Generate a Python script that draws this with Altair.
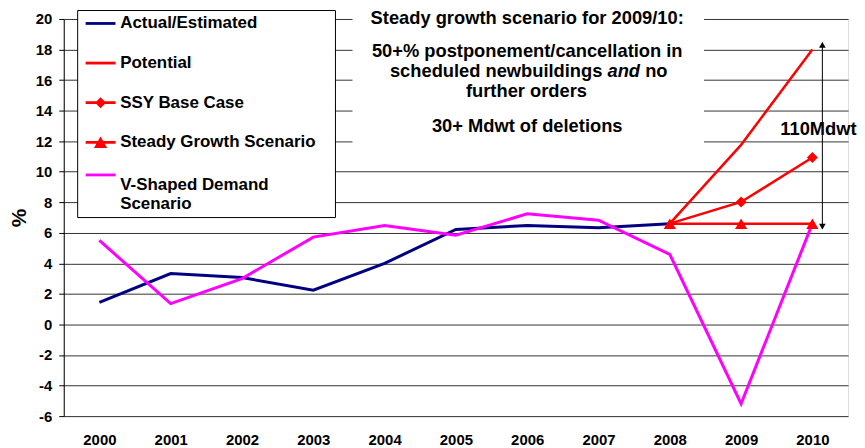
import altair as alt
import pandas as pd

# ---------------- data ----------------
years = list(range(2000, 2011))
actual = [1.44, 3.33, 3.07, 2.24, 4.00, 6.22, 6.48, 6.33, 6.60, None, None]
potential = [None] * 8 + [6.60, 11.76, 18.00]
base_case = [None] * 8 + [6.60, 8.02, 10.93]
steady = [None] * 8 + [6.60, 6.60, 6.60]
v_shaped = [5.50, 1.37, 3.00, 5.72, 6.48, 5.85, 7.24, 6.83, 4.59, -5.19, 6.60]

series_names = ["Actual/Estimated", "Potential", "SSY Base Case",
                "Steady Growth Scenario", "V-Shaped Demand Scenario"]
series_values = [actual, potential, base_case, steady, v_shaped]

y_ticks = list(range(-6, 21, 2))

note_lines = ["Steady growth scenario for 2009/10:",
              "50+% postponement/cancellation in",
              "further orders",
              "30+ Mdwt of deletions"]
line3_parts = ["scheduled newbuildings", "and", "no"]
arrow_label = "110Mdwt"

# ---------------- tables ----------------
rows = []
for name, vals in zip(series_names, series_values):
    for yr, v in zip(years, vals):
        if v is not None:
            rows.append({"year": yr, "value": v, "series": name})
df = pd.DataFrame(rows)

notes = pd.DataFrame({"text": note_lines,
                      "year": [2006.0, 2006.0, 2005.99, 2006.0],
                      "value": [20.05, 17.91, 15.28, 13.01]})
line3 = pd.DataFrame({"text": line3_parts,
                      "year": [2007.055, 2007.126, 2007.655],
                      "value": [16.61] * 3})
box = pd.DataFrame({"year": [2003.55], "year2": [2008.48],
                    "value": [11.0], "value2": [20.7]})
arrow = pd.DataFrame({"year": [2010.14], "value": [18.45], "value2": [6.25]})
arrow_heads = pd.DataFrame({"year": [2010.14, 2010.14], "value": [18.3, 6.4],
                            "dir": ["up", "down"]})
arrow_text = pd.DataFrame({"text": [arrow_label], "year": [2009.55], "value": [12.81]})

FONT = "Liberation Sans"
NOTE_SIZE = 18.4

xscale = alt.Scale(domain=[1999.5, 2010.5], nice=False, zero=False)
yscale = alt.Scale(domain=[-6, 20], nice=False, zero=False)

xaxis = alt.Axis(values=years, tickCount=20, format="d", title=None, grid=False,
                 ticks=False, domain=False, labelFontSize=15, labelFontWeight="bold",
                 labelColor="black", labelFont=FONT, labelPadding=17)
yaxis = alt.Axis(values=y_ticks, tickCount=30, labelOverlap=False,
                 labelExpr="datum.value < 0 ? '-' + abs(datum.value) : '' + datum.value",
                 title="%", titleFontSize=21,
                 titleFontWeight="bold", titleFont=FONT, titleColor="black",
                 titleAngle=270, titleX=-44, titleY=199.5, titleAlign="center",
                 titleBaseline="middle", labelFontSize=15, labelFontWeight="bold",
                 labelColor="black", labelFont=FONT, labelPadding=7, tickSize=5,
                 tickColor="black", domainColor="black", grid=True,
                 gridColor="#333333", gridWidth=1)

X = alt.X("year:Q", scale=xscale, axis=xaxis)
Y = alt.Y("value:Q", scale=yscale, axis=yaxis)
Xp = alt.X("year:Q", scale=xscale)
Yp = alt.Y("value:Q", scale=yscale)

base = alt.Chart(df)


def line(name, color, width):
    return base.transform_filter(alt.datum.series == name).mark_line(
        color=color, strokeWidth=width).encode(x=Xp, y=Yp)


def text_layer(data, align, italic=False):
    kw = dict(font=FONT, fontSize=NOTE_SIZE, fontWeight="bold", color="black",
              align=align, baseline="middle")
    if italic:
        kw["fontStyle"] = "italic"
    return alt.Chart(data).mark_text(**kw).encode(x=Xp, y=Yp, text="text:N")


white_box = alt.Chart(box).mark_rect(color="white").encode(
    x=X, x2="year2:Q", y=Y, y2="value2:Q")

layers = [
    white_box,
    line("Actual/Estimated", "#000080", 3),
    line("V-Shaped Demand Scenario", "#FF00FF", 3),
    line("Potential", "#FF0000", 2.5),
    line("SSY Base Case", "#FF0000", 2.5),
    line("Steady Growth Scenario", "#FF0000", 2.5),
    base.transform_filter((alt.datum.series == "SSY Base Case") & (alt.datum.year > 2008))
        .mark_point(shape="diamond", filled=True, size=120, color="#FF0000", opacity=1)
        .encode(x=Xp, y=Yp),
    base.transform_filter(alt.datum.series == "Steady Growth Scenario")
        .mark_point(shape="triangle-up", filled=True, size=150, color="#FF0000", opacity=1)
        .encode(x=Xp, y=Yp),
    alt.Chart(arrow).mark_rule(color="black", strokeWidth=1).encode(
        x=Xp, y=Yp, y2="value2:Q"),
    alt.Chart(arrow_heads).transform_filter(alt.datum.dir == "up")
        .mark_point(shape="triangle-up", filled=True, size=45, color="black", opacity=1)
        .encode(x=Xp, y=Yp),
    alt.Chart(arrow_heads).transform_filter(alt.datum.dir == "down")
        .mark_point(shape="triangle-down", filled=True, size=45, color="black", opacity=1)
        .encode(x=Xp, y=Yp),
    text_layer(notes, "center"),
    text_layer(line3.iloc[[0]], "right"),
    text_layer(line3.iloc[[1]], "left", italic=True),
    text_layer(line3.iloc[[2]], "left"),
    text_layer(arrow_text, "left"),
]

# legend symbols (unit = 9 px): line, line+diamond, line+triangle
LINE = "M-0.556,-0.156L2.778,-0.156L2.778,0.156L-0.556,0.156Z"
LINE_UP = "M-0.556,-1.267L2.778,-1.267L2.778,-0.955L-0.556,-0.955Z"
DIAMOND = "M1.111,-0.611L1.722,0L1.111,0.611L0.5,0Z"
TRIANGLE = "M1.111,-0.65L1.85,0.65L0.372,0.65Z"
WIDEN = "M26.7,0L26.72,0L26.71,0.002Z"  # zero-area point that widens the legend box
legend_shapes = [LINE, LINE, LINE + DIAMOND, LINE + TRIANGLE + WIDEN, LINE_UP]
legend_colors = ["#000080", "#FF0000", "#FF0000", "#FF0000", "#FF00FF"]

legend = alt.Legend(
    orient="none", legendX=13.5, legendY=-9, title=None,
    fillColor="white", strokeColor="black", padding=4.5,
    symbolSize=324, symbolStrokeWidth=0, labelFontSize=17, labelFont=FONT,
    labelFontWeight="bold", labelColor="black", labelOffset=20.7, labelLimit=400,
    labelBaseline="middle", rowPadding=22.8,
    labelExpr="datum.label == 'V-Shaped Demand Scenario' ? ['V-Shaped Demand', 'Scenario'] : datum.label",
)
legend_layer = base.transform_filter("false").mark_point(filled=True, opacity=1).encode(
    x=Xp, y=Yp,
    color=alt.Color("series:N", scale=alt.Scale(domain=series_names, range=legend_colors), legend=legend),
    shape=alt.Shape("series:N", scale=alt.Scale(domain=series_names, range=legend_shapes), legend=legend),
)
layers.append(legend_layer)

chart = alt.layer(*layers).properties(
    width=788, height=399,
    padding={"left": 56, "top": 10, "right": 9, "bottom": 30},
    autosize=alt.AutoSizeParams(type="none"),
).configure_view(stroke=None).configure(font=FONT)

chart.save("out.html", embed_options={"renderer": "svg", "actions": False})
